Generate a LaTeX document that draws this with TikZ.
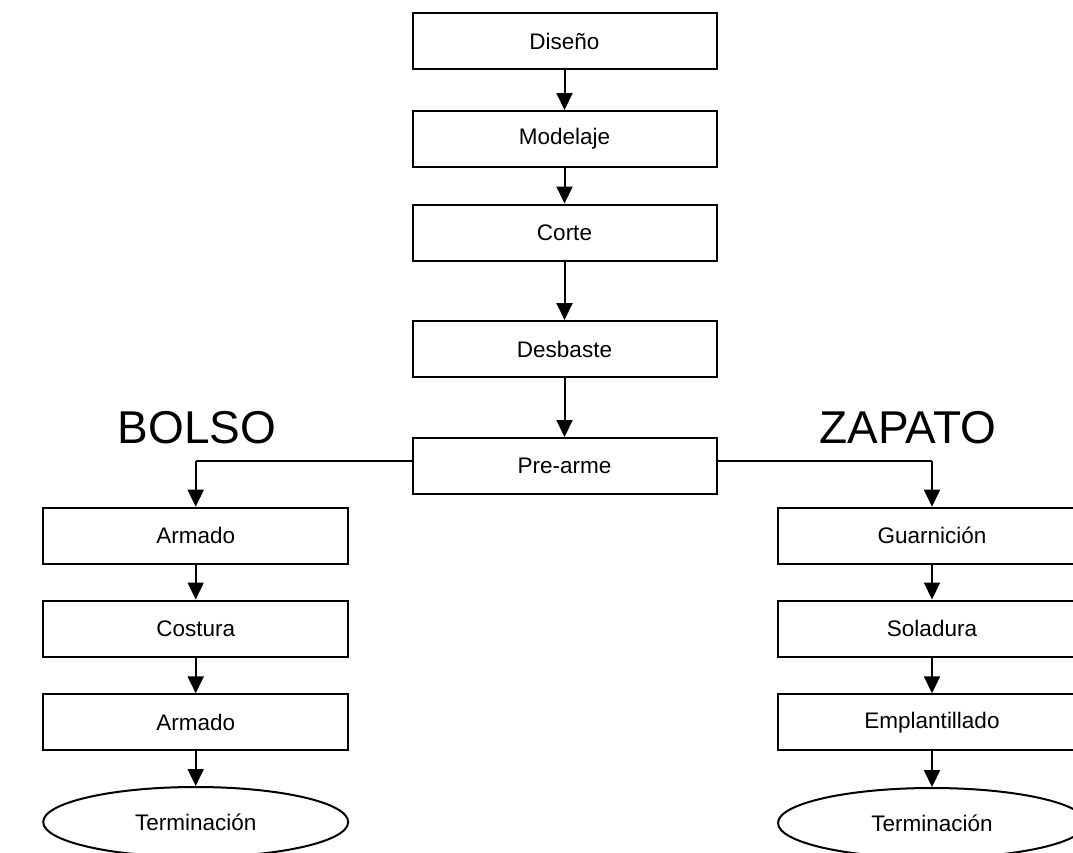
\documentclass[tikz,border=0pt]{standalone}
\usepackage{fontspec}
\setmainfont{Liberation Sans}
\usetikzlibrary{shapes.geometric,arrows.meta}
\tikzset{
  box/.style={draw=black,line width=2pt,minimum width=304pt,minimum height=56pt,inner sep=0pt,font=\fontsize{22.5}{26}\selectfont},
  term/.style={ellipse,draw=black,line width=2pt,minimum width=305pt,minimum height=70pt,inner sep=0pt,font=\fontsize{22.5}{26}\selectfont},
  big/.style={font=\fontsize{46}{50}\selectfont,inner sep=0pt},
  conn/.style={line width=2pt,-{Triangle[length=17pt,width=16pt]}},
  plain/.style={line width=2pt}
}
\begin{document}
\begin{tikzpicture}[x=1pt,y=-1pt]
\useasboundingbox (0,0) rectangle (1073,852);
\clip (0,0) rectangle (1073,852);
% main column
\node[box] (dis) at (564.5,41) {Diseño};
\node[box] (mod) at (564.5,139) {Modelaje};
\node[box] (cor) at (564.5,232.5) {Corte};
\node[box] (des) at (564.5,349) {Desbaste};
\node[box] (pre) at (564.5,466) {Pre-arme};
% labels
\node[big] (bolso) at (197,428) {BOLSO};
\node[big] (zapato) at (908,428) {ZAPATO};
% left column
\node[box,minimum width=305pt] (arm1) at (195.7,535.7) {Armado};
\node[box,minimum width=305pt] (cos) at (195.7,628.5) {Costura};
\node[box,minimum width=305pt] (arm2) at (195.7,722.3) {Armado};
\node[term] (terl) at (195.7,822) {Terminación};
% right column
\node[box,minimum width=308pt] (gua) at (932,535.7) {Guarnición};
\node[box,minimum width=308pt] (sol) at (932,628.5) {Soladura};
\node[box,minimum width=308pt] (emp) at (932,722.3) {Emplantillado};
\node[term,minimum width=308pt] (terr) at (932,823) {Terminación};
% connectors main
\draw[conn] (dis) -- (mod);
\draw[conn] (mod) -- (cor);
\draw[conn] (cor) -- (des);
\draw[conn] (des) -- (pre);
% branches
\coordinate (cl) at (195.7,461);
\coordinate (cr) at (932,461);
\draw[plain] ([yshift=5pt]pre.west) -- (cl);
\draw[conn] (cl) -- (arm1.north);
\draw[plain] ([yshift=5pt]pre.east) -- (cr);
\draw[conn] (cr) -- (gua.north);
% left chain
\draw[conn] (arm1) -- (cos);
\draw[conn] (cos) -- (arm2);
\draw[conn] (arm2) -- (terl);
% right chain
\draw[conn] (gua) -- (sol);
\draw[conn] (sol) -- (emp);
\draw[conn] (emp) -- (terr);
\end{tikzpicture}
\end{document}
